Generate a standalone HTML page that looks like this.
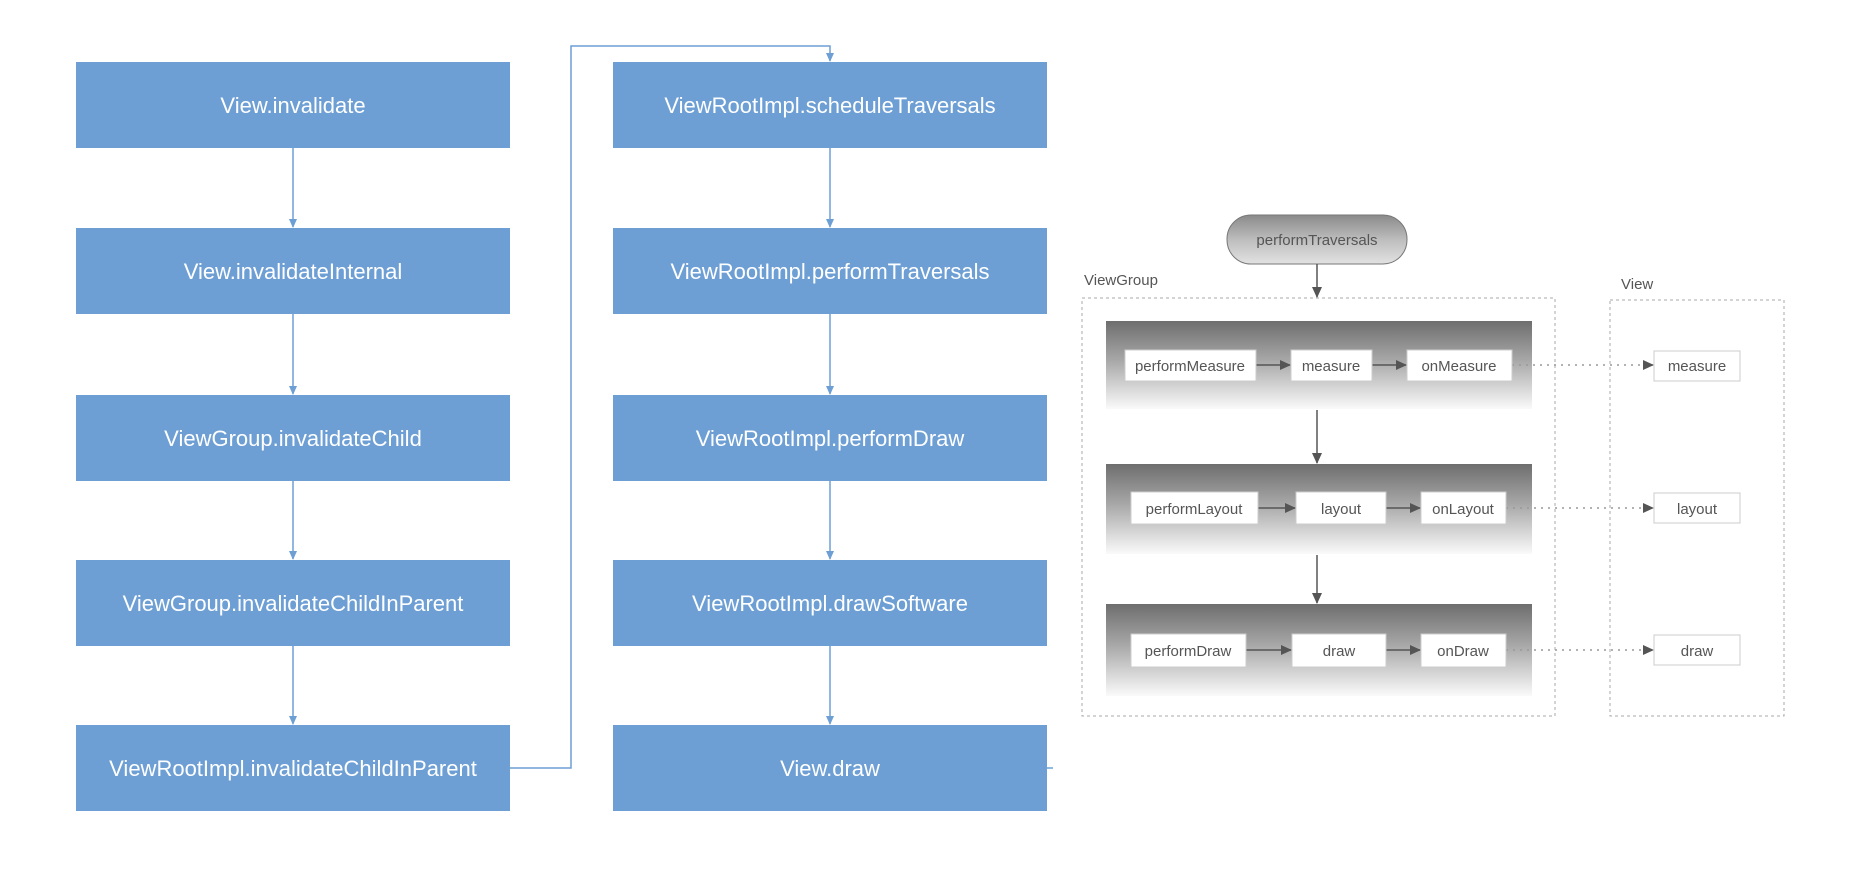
<!DOCTYPE html>
<html><head><style>
body{margin:0;background:#fff;}
svg{display:block;font-family:"Liberation Sans",sans-serif;}
</style></head><body>
<svg width="1864" height="886" viewBox="0 0 1864 886" xmlns="http://www.w3.org/2000/svg">
<defs>
<linearGradient id="band" x1="0" y1="0" x2="0" y2="1">
<stop offset="0" stop-color="#6e6e6e"/><stop offset="0.45" stop-color="#a8a8a8"/><stop offset="1" stop-color="#fafafa"/>
</linearGradient>
<linearGradient id="pill" x1="0" y1="0" x2="0" y2="1">
<stop offset="0" stop-color="#8a8a8a"/><stop offset="0.5" stop-color="#bdbdbd"/><stop offset="1" stop-color="#e2e2e2"/>
</linearGradient>
<marker id="ab" markerWidth="10" markerHeight="10" refX="8" refY="5" orient="auto" markerUnits="userSpaceOnUse"><path d="M0,1 L9,5 L0,9 z" fill="#6d9fd5"/></marker>
<marker id="ag" markerWidth="12" markerHeight="12" refX="10" refY="6" orient="auto" markerUnits="userSpaceOnUse"><path d="M0,1 L11,6 L0,11 z" fill="#555"/></marker>
</defs>
<g fill="#6d9fd5">
<rect x="76" y="62" width="434" height="86"/><rect x="76" y="228" width="434" height="86"/><rect x="76" y="395" width="434" height="86"/><rect x="76" y="560" width="434" height="86"/><rect x="76" y="725" width="434" height="86"/>
<rect x="613" y="62" width="434" height="86"/><rect x="613" y="228" width="434" height="86"/><rect x="613" y="395" width="434" height="86"/><rect x="613" y="560" width="434" height="86"/><rect x="613" y="725" width="434" height="86"/>
</g>
<g fill="#fff" font-size="22" text-anchor="middle">
<text x="293" y="113">View.invalidate</text>
<text x="293" y="279">View.invalidateInternal</text>
<text x="293" y="446">ViewGroup.invalidateChild</text>
<text x="293" y="611">ViewGroup.invalidateChildInParent</text>
<text x="293" y="776">ViewRootImpl.invalidateChildInParent</text>
<text x="830" y="113">ViewRootImpl.scheduleTraversals</text>
<text x="830" y="279">ViewRootImpl.performTraversals</text>
<text x="830" y="446">ViewRootImpl.performDraw</text>
<text x="830" y="611">ViewRootImpl.drawSoftware</text>
<text x="830" y="776">View.draw</text>
</g>
<g stroke="#6d9fd5" stroke-width="1.5" fill="none" marker-end="url(#ab)">
<line x1="293" y1="148" x2="293" y2="227"/><line x1="293" y1="314" x2="293" y2="394"/><line x1="293" y1="481" x2="293" y2="559"/><line x1="293" y1="646" x2="293" y2="724"/>
<line x1="830" y1="148" x2="830" y2="227"/><line x1="830" y1="314" x2="830" y2="394"/><line x1="830" y1="481" x2="830" y2="559"/><line x1="830" y1="646" x2="830" y2="724"/>
<polyline points="510,768 571,768 571,46 830,46 830,61"/>
</g>
<line x1="1047" y1="768" x2="1053" y2="768" stroke="#6d9fd5" stroke-width="1.5"/>
<!-- right diagram -->
<rect x="1227" y="215" width="180" height="49" rx="24" fill="url(#pill)" stroke="#777"/>
<text x="1317" y="245" font-size="15" fill="#555" text-anchor="middle">performTraversals</text>
<text x="1084" y="285" font-size="15" fill="#555">ViewGroup</text>
<text x="1621" y="289" font-size="15" fill="#555">View</text>
<rect x="1082" y="298" width="473" height="418" fill="none" stroke="#aaa" stroke-dasharray="3,3"/>
<rect x="1610" y="300" width="174" height="416" fill="none" stroke="#aaa" stroke-dasharray="3,3"/>
<rect x="1106" y="321" width="426" height="88" fill="url(#band)"/>
<rect x="1106" y="464" width="426" height="90" fill="url(#band)"/>
<rect x="1106" y="604" width="426" height="92" fill="url(#band)"/>
<g stroke="#555" stroke-width="1.5" marker-end="url(#ag)">
<line x1="1317" y1="264" x2="1317" y2="297"/>
<line x1="1317" y1="410" x2="1317" y2="463"/>
<line x1="1317" y1="555" x2="1317" y2="603"/>
<line x1="1256" y1="365" x2="1290" y2="365"/><line x1="1372" y1="365" x2="1406" y2="365"/>
<line x1="1258" y1="508" x2="1295" y2="508"/><line x1="1386" y1="508" x2="1420" y2="508"/>
<line x1="1246" y1="650" x2="1291" y2="650"/><line x1="1386" y1="650" x2="1420" y2="650"/>
</g>
<g stroke="#999" stroke-width="1.5" stroke-dasharray="2,5" marker-end="url(#ag)">
<line x1="1512" y1="365" x2="1653" y2="365"/><line x1="1506" y1="508" x2="1653" y2="508"/><line x1="1506" y1="650" x2="1653" y2="650"/>
</g>
<g fill="#fff" stroke="#ccc">
<rect x="1125" y="350" width="131" height="31"/><rect x="1291" y="350" width="81" height="31"/><rect x="1407" y="350" width="105" height="31"/>
<rect x="1131" y="492" width="127" height="32"/><rect x="1296" y="492" width="90" height="32"/><rect x="1421" y="492" width="85" height="32"/>
<rect x="1131" y="634" width="115" height="33"/><rect x="1292" y="634" width="94" height="33"/><rect x="1421" y="634" width="85" height="33"/>
<rect x="1654" y="351" width="86" height="30"/><rect x="1654" y="493" width="86" height="30"/><rect x="1654" y="635" width="86" height="30"/>
</g>
<g font-size="15" fill="#555" text-anchor="middle">
<text x="1190" y="371">performMeasure</text><text x="1331" y="371">measure</text><text x="1459" y="371">onMeasure</text>
<text x="1194" y="514">performLayout</text><text x="1341" y="514">layout</text><text x="1463" y="514">onLayout</text>
<text x="1188" y="656">performDraw</text><text x="1339" y="656">draw</text><text x="1463" y="656">onDraw</text>
<text x="1697" y="371">measure</text><text x="1697" y="514">layout</text><text x="1697" y="656">draw</text>
</g>
</svg>
</body></html>
